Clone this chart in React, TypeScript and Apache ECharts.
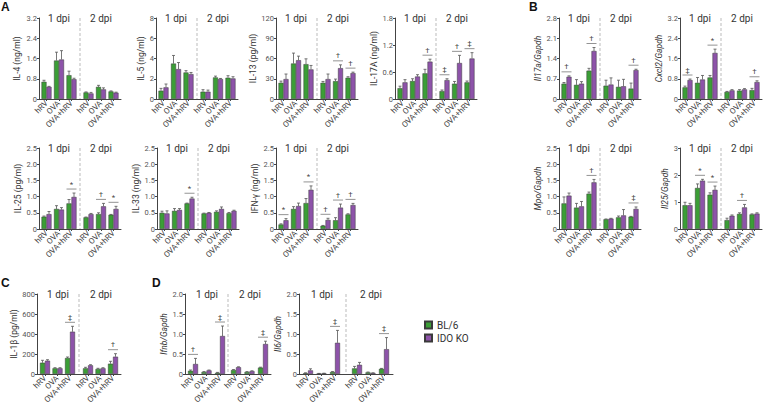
import React, { useEffect, useRef } from "react";
import * as echarts from "echarts";

// ---------------- DATA ----------------
const GROUPS = ["hRV", "OVA", "OVA+hRV"];
const DPI_LABELS = ["1 dpi", "2 dpi"];
const GENOTYPES = ["BL/6", "IDO KO"];
// order in every array: 1 dpi hRV, OVA, OVA+hRV, 2 dpi hRV, OVA, OVA+hRV

const IL4_BL6 = [0.68, 1.52, 0.94, 0.26, 0.48, 0.3];
const IL4_BL6_ERR = [0.74, 1.85, 1.1, 0.28, 0.54, 0.32];
const IL4_KO = [0.48, 1.56, 0.78, 0.22, 0.38, 0.25];
const IL4_KO_ERR = [0.5, 1.91, 0.82, 0.26, 0.44, 0.27];
const IL4_SIG = ["", "", "", "", "", ""];

const IL5_BL6 = [0.82, 3.5, 2.62, 0.72, 2.13, 2.1];
const IL5_BL6_ERR = [1.05, 4.3, 2.8, 0.92, 2.26, 2.3];
const IL5_KO = [1.15, 2.95, 2.46, 0.72, 1.97, 2.03];
const IL5_KO_ERR = [1.48, 3.6, 2.62, 0.88, 2.03, 2.2];
const IL5_SIG = ["", "", "", "", "", ""];

const IL13_BL6 = [24, 52.6, 51.6, 24, 26.5, 31.5];
const IL13_BL6_ERR = [26.5, 68, 59.5, 26, 29.5, 33];
const IL13_KO = [29.5, 57.5, 43.8, 29.5, 45.7, 38.4];
const IL13_KO_ERR = [37, 63.5, 49.7, 37, 50.6, 39.8];
const IL13_SIG = ["", "", "", "", "†", "†"];

const IL17A_BL6 = [0.24, 0.4, 0.57, 0.175, 0.34, 0.37];
const IL17A_BL6_ERR = [0.285, 0.45, 0.66, 0.2, 0.39, 0.4];
const IL17A_KO = [0.37, 0.5, 0.83, 0.42, 0.8, 0.9];
const IL17A_KO_ERR = [0.43, 0.54, 0.885, 0.45, 0.97, 1.03];
const IL17A_SIG = ["", "", "†", "‡", "†", "‡"];

const IL17A_MRNA_BL6 = [0.53, 0.49, 0.98, 0.46, 0.42, 0.36];
const IL17A_MRNA_BL6_ERR = [0.57, 0.67, 1.06, 0.65, 0.65, 0.55];
const IL17A_MRNA_KO = [0.77, 0.53, 1.66, 0.5, 0.44, 1.0];
const IL17A_MRNA_KO_ERR = [0.8, 0.6, 1.78, 0.73, 0.68, 1.03];
const IL17A_MRNA_SIG = ["†", "", "†", "", "", "†"];

const CXCL2_BL6 = [0.46, 0.64, 0.85, 0.28, 0.33, 0.35];
const CXCL2_BL6_ERR = [0.51, 0.85, 0.93, 0.3, 0.37, 0.42];
const CXCL2_KO = [0.75, 0.77, 1.82, 0.34, 0.38, 0.67];
const CXCL2_KO_ERR = [0.79, 0.93, 1.97, 0.37, 0.41, 0.72];
const CXCL2_SIG = ["‡", "", "*", "", "", "†"];

const IL25_BL6 = [0.38, 0.62, 0.79, 0.36, 0.46, 0.44];
const IL25_BL6_ERR = [0.4, 0.72, 0.91, 0.37, 0.5, 0.45];
const IL25_KO = [0.46, 0.6, 0.99, 0.46, 0.7, 0.62];
const IL25_KO_ERR = [0.54, 0.66, 1.11, 0.48, 0.79, 0.7];
const IL25_SIG = ["", "", "*", "", "†", "*"];

const IL33_BL6 = [0.5, 0.56, 0.79, 0.48, 0.53, 0.49];
const IL33_BL6_ERR = [0.55, 0.63, 0.8, 0.49, 0.56, 0.51];
const IL33_KO = [0.48, 0.59, 0.94, 0.5, 0.62, 0.56];
const IL33_KO_ERR = [0.56, 0.63, 0.98, 0.51, 0.68, 0.58];
const IL33_SIG = ["", "", "*", "", "", ""];

const IFNG_BL6 = [0.14, 0.62, 0.8, 0.1, 0.27, 0.45];
const IFNG_BL6_ERR = [0.16, 0.69, 0.94, 0.11, 0.35, 0.47];
const IFNG_KO = [0.27, 0.71, 1.21, 0.28, 0.66, 0.74];
const IFNG_KO_ERR = [0.32, 0.8, 1.33, 0.33, 0.77, 0.79];
const IFNG_SIG = ["*", "", "*", "†", "†", "†"];

const MPO_BL6 = [0.79, 0.66, 1.09, 0.3, 0.36, 0.38];
const MPO_BL6_ERR = [0.99, 0.79, 1.14, 0.31, 0.4, 0.39];
const MPO_KO = [1.03, 0.7, 1.44, 0.32, 0.42, 0.62];
const MPO_KO_ERR = [1.11, 0.85, 1.53, 0.33, 0.6, 0.68];
const MPO_SIG = ["", "", "†", "", "", "‡"];

const IL25_MRNA_BL6 = [0.88, 1.52, 1.27, 0.33, 0.56, 0.54];
const IL25_MRNA_BL6_ERR = [0.99, 1.67, 1.34, 0.4, 0.6, 0.56];
const IL25_MRNA_KO = [0.88, 1.79, 1.45, 0.49, 0.8, 0.57];
const IL25_MRNA_KO_ERR = [0.95, 1.84, 1.59, 0.52, 0.91, 0.6];
const IL25_MRNA_SIG = ["", "*", "*", "", "†", ""];

const IL1B_BL6 = [113, 57, 160, 57, 50, 103];
const IL1B_BL6_ERR = [137, 63, 170, 67, 57, 127];
const IL1B_KO = [133, 57, 423, 87, 57, 173];
const IL1B_KO_ERR = [143, 63, 477, 93, 63, 203];
const IL1B_SIG = ["", "", "‡", "", "", "†"];

const IFNB_BL6 = [0.08, 0.05, 0.03, 0.1, 0.05, 0.16];
const IFNB_BL6_ERR = [0.1, 0.06, 0.04, 0.11, 0.06, 0.17];
const IFNB_KO = [0.25, 0.09, 0.95, 0.17, 0.07, 0.75];
const IFNB_KO_ERR = [0.39, 0.1, 1.2, 0.18, 0.08, 0.82];
const IFNB_SIG = ["†", "", "‡", "", "", "‡"];

const IL6_BL6 = [0.02, 0.01, 0.05, 0.14, 0.04, 0.13];
const IL6_BL6_ERR = [0.03, 0.015, 0.06, 0.19, 0.05, 0.14];
const IL6_KO = [0.09, 0.015, 0.78, 0.23, 0.025, 0.62];
const IL6_KO_ERR = [0.13, 0.02, 1.09, 0.29, 0.03, 0.91];
const IL6_SIG = ["", "", "‡", "", "", "‡"];

// panel axis definitions: name, max, interval, decimals, italic
const PANELS = [
  { name: "IL-4 (ng/ml)", max: 3.2, interval: 0.8, dec: 1, italic: false, d: [IL4_BL6, IL4_BL6_ERR, IL4_KO, IL4_KO_ERR, IL4_SIG] },
  { name: "IL-5 (ng/ml)", max: 8, interval: 2, dec: 0, italic: false, d: [IL5_BL6, IL5_BL6_ERR, IL5_KO, IL5_KO_ERR, IL5_SIG] },
  { name: "IL-13 (pg/ml)", max: 120, interval: 30, dec: 0, italic: false, d: [IL13_BL6, IL13_BL6_ERR, IL13_KO, IL13_KO_ERR, IL13_SIG] },
  { name: "IL-17A (ng/ml)", max: 1.8, interval: 0.6, dec: 1, italic: false, d: [IL17A_BL6, IL17A_BL6_ERR, IL17A_KO, IL17A_KO_ERR, IL17A_SIG] },
  { name: "Il17a/Gapdh", max: 2.8, interval: 0.7, dec: 1, italic: true, d: [IL17A_MRNA_BL6, IL17A_MRNA_BL6_ERR, IL17A_MRNA_KO, IL17A_MRNA_KO_ERR, IL17A_MRNA_SIG] },
  { name: "Cxcl2/Gapdh", max: 3.2, interval: 0.8, dec: 1, italic: true, d: [CXCL2_BL6, CXCL2_BL6_ERR, CXCL2_KO, CXCL2_KO_ERR, CXCL2_SIG] },
  { name: "IL-25 (pg/ml)", max: 2.5, interval: 0.5, dec: 1, italic: false, d: [IL25_BL6, IL25_BL6_ERR, IL25_KO, IL25_KO_ERR, IL25_SIG] },
  { name: "IL-33 (ng/ml)", max: 2.5, interval: 0.5, dec: 1, italic: false, d: [IL33_BL6, IL33_BL6_ERR, IL33_KO, IL33_KO_ERR, IL33_SIG] },
  { name: "IFN-γ (ng/ml)", max: 2.5, interval: 0.5, dec: 1, italic: false, d: [IFNG_BL6, IFNG_BL6_ERR, IFNG_KO, IFNG_KO_ERR, IFNG_SIG] },
  { name: "Mpo/Gapdh", max: 2.5, interval: 0.5, dec: 1, italic: true, d: [MPO_BL6, MPO_BL6_ERR, MPO_KO, MPO_KO_ERR, MPO_SIG] },
  { name: "Il25/Gapdh", max: 3, interval: 1, dec: 0, italic: true, d: [IL25_MRNA_BL6, IL25_MRNA_BL6_ERR, IL25_MRNA_KO, IL25_MRNA_KO_ERR, IL25_MRNA_SIG] },
  { name: "IL-1β (pg/ml)", max: 800, interval: 200, dec: 0, italic: false, d: [IL1B_BL6, IL1B_BL6_ERR, IL1B_KO, IL1B_KO_ERR, IL1B_SIG] },
  { name: "Ifnb/Gapdh", max: 2, interval: 0.5, dec: 1, italic: true, d: [IFNB_BL6, IFNB_BL6_ERR, IFNB_KO, IFNB_KO_ERR, IFNB_SIG] },
  { name: "Il6/Gapdh", max: 2, interval: 0.5, dec: 1, italic: true, d: [IL6_BL6, IL6_BL6_ERR, IL6_KO, IL6_KO_ERR, IL6_SIG] },
];

// ---------------- LAYOUT ----------------
const ROW_TOP = [18, 148, 294];
const ROW_ZERO = [99, 229, 374];
// x: y-axis position, m: margin to first group centre, s: group spacing, g: half gap to dashed line
const LAYOUT = [
  { row: 0, x: 39, m: 7.5, s: 12.5, g: 8.5, ng: 18 },
  { row: 0, x: 156, m: 7.5, s: 12.5, g: 8.5, ng: 11 },
  { row: 0, x: 276, m: 7.5, s: 12.5, g: 8.5, ng: 15 },
  { row: 0, x: 395, m: 7.5, s: 12.5, g: 8.5, ng: 14 },
  { row: 0, x: 559, m: 7.5, s: 12.5, g: 8.5, ng: 16 },
  { row: 0, x: 680, m: 7.5, s: 12.5, g: 8.5, ng: 13 },
  { row: 1, x: 39, m: 7.5, s: 12.5, g: 8.5, ng: 17 },
  { row: 1, x: 157, m: 7.5, s: 12.5, g: 8.5, ng: 17 },
  { row: 1, x: 276, m: 7.5, s: 12.5, g: 8.5, ng: 17 },
  { row: 1, x: 559, m: 7.5, s: 12.5, g: 8.5, ng: 17 },
  { row: 1, x: 680, m: 7.5, s: 12.5, g: 8.5, ng: 11 },
  { row: 2, x: 37, m: 8, s: 12.5, g: 9, ng: 17 },
  { row: 2, x: 185, m: 8, s: 13.5, g: 8, ng: 17 },
  { row: 2, x: 299, m: 9, s: 13.5, g: 11, ng: 17 },
];

const GREEN = "#3b9e36";
const PURPLE = "#8d53a9";
const FONT = "Roboto, 'Noto Sans', sans-serif";
const AXIS_COLOR = "#444";

function buildOption() {
  const grid: any[] = [];
  const xAxis: any[] = [];
  const yAxis: any[] = [];
  const series: any[] = [];
  const graphic: any[] = [];

  PANELS.forEach((p, pi) => {
    const L = LAYOUT[pi];
    const top = ROW_TOP[L.row];
    const zero = ROW_ZERO[L.row];
    const h = zero - top;
    const total = 2 * L.m + 4 * L.s + 2 * L.g;
    const dashX = L.x + L.m + 2 * L.s + L.g;
    const [bl6, bl6Err, ko, koErr, sig] = p.d as any[];

    // frame grid: y axis + continuous x axis line
    const fi = grid.length;
    grid.push({ left: L.x, top, width: total, height: h });
    xAxis.push({
      gridIndex: fi, type: "value", min: 0, max: 1,
      axisLine: { show: true, lineStyle: { color: AXIS_COLOR, width: 1 } },
      axisTick: { show: false }, axisLabel: { show: false }, splitLine: { show: false },
    });
    yAxis.push({
      gridIndex: fi, type: "value", min: 0, max: p.max, interval: p.interval,
      name: p.name, nameLocation: "middle", nameGap: L.ng,
      nameTextStyle: { fontSize: 8.5, color: "#333", fontFamily: FONT, fontStyle: p.italic ? "italic" : "normal" },
      axisLine: { show: true, lineStyle: { color: AXIS_COLOR, width: 1 } },
      axisTick: { show: true, length: 2, lineStyle: { color: AXIS_COLOR } },
      axisLabel: {
        fontSize: 7.5, color: "#555", fontFamily: FONT, margin: 2,
        formatter: (v: number) => (v === 0 ? "0" : v.toFixed(p.dec)),
      },
      splitLine: { show: false },
    });

    // dashed separator
    graphic.push({
      type: "line", silent: true,
      shape: { x1: dashX, y1: top, x2: dashX, y2: zero },
      style: { stroke: "#aaa", lineWidth: 0.8, lineDash: [3, 2] },
    });

    for (let half = 0; half < 2; half++) {
      const left = half === 0 ? L.x + L.m - L.s / 2 : dashX + L.g - L.s / 2;
      const gi = grid.length;
      grid.push({ left, top, width: 3 * L.s, height: h });
      xAxis.push({
        gridIndex: gi, type: "category", data: GROUPS,
        axisLine: { show: false },
        axisTick: { show: true, alignWithLabel: true, length: 2, lineStyle: { color: AXIS_COLOR } },
        axisLabel: { rotate: 45, fontSize: 8, color: "#444", fontFamily: FONT, margin: 3, interval: 0 },
        splitLine: { show: false },
      });
      yAxis.push({ gridIndex: gi, type: "value", min: 0, max: p.max, show: false, splitLine: { show: false } });

      graphic.push({
        type: "text", silent: true,
        x: Math.round(left + 1.5 * L.s), y: top,
        style: { text: DPI_LABELS[half], fontSize: 10, fill: "#333", fontFamily: FONT, align: "center", verticalAlign: "middle" },
      });

      const sl = (a: number[]) => a.slice(half * 3, half * 3 + 3);
      const barStyle = (c: string) => ({ color: c, borderColor: "#3a3a3a", borderWidth: 0.5 });
      series.push({
        type: "bar", name: GENOTYPES[0], xAxisIndex: gi, yAxisIndex: gi,
        data: sl(bl6), barWidth: 5, barGap: "0%", itemStyle: barStyle(GREEN), silent: true,
      });
      series.push({
        type: "bar", name: GENOTYPES[1], xAxisIndex: gi, yAxisIndex: gi,
        data: sl(ko), barWidth: 5, barGap: "0%", itemStyle: barStyle(PURPLE), silent: true,
      });

      // error bars
      const errData: number[][] = [];
      [0, 1, 2].forEach((i) => {
        errData.push([i, sl(bl6)[i], sl(bl6Err)[i], 0]);
        errData.push([i, sl(ko)[i], sl(koErr)[i], 1]);
      });
      series.push({
        type: "custom", xAxisIndex: gi, yAxisIndex: gi, silent: true,
        itemStyle: { color: "#555" },
        encode: { x: 0, y: 2 },
        data: errData,
        renderItem: (params: any, api: any) => {
          const c = api.value(0), v = api.value(1), e = api.value(2), k = api.value(3);
          const a = api.coord([c, v]);
          const b = api.coord([c, e]);
          const px = a[0] + (k === 0 ? -2.5 : 2.5);
          const st = { stroke: "#555", lineWidth: 0.8 };
          return {
            type: "group",
            children: [
              { type: "line", shape: { x1: px, y1: a[1], x2: px, y2: b[1] }, style: st },
              { type: "line", shape: { x1: px - 1.5, y1: b[1], x2: px + 1.5, y2: b[1] }, style: st },
            ],
          };
        },
      });

      // significance marks
      const sigLabels = sl(sig as any);
      const sigData: number[][] = [];
      const sigText: string[] = [];
      [0, 1, 2].forEach((i) => {
        if (sigLabels[i]) {
          sigData.push([i, Math.max(sl(bl6Err)[i], sl(koErr)[i])]);
          sigText.push(sigLabels[i]);
        }
      });
      if (sigData.length) {
        series.push({
          type: "custom", xAxisIndex: gi, yAxisIndex: gi, silent: true,
          itemStyle: { color: "#444" },
          encode: { x: 0, y: 1 },
          data: sigData,
          renderItem: (params: any, api: any) => {
            const pt = api.coord([api.value(0), api.value(1)]);
            const ly = pt[1] - 4;
            return {
              type: "group",
              children: [
                { type: "line", shape: { x1: pt[0] - 5, y1: ly, x2: pt[0] + 5, y2: ly }, style: { stroke: "#777", lineWidth: 0.8 } },
                {
                  type: "text", x: pt[0], y: ly - 1,
                  style: { text: sigText[params.dataIndex], fontSize: 8, fill: "#444", opacity: 0.99, fontFamily: FONT, align: "center", verticalAlign: "bottom" },
                },
              ],
            };
          },
        });
      }
    }
  });

  const letter = (t: string, x: number, y: number) => ({
    type: "text", silent: true, x, y,
    style: { text: t, fontSize: 12, fontWeight: "bold", fill: "#111", fontFamily: "'Liberation Sans', Arial, sans-serif" },
  });
  graphic.push(letter("A", 1, 1), letter("B", 529, 1), letter("C", 1, 277), letter("D", 152, 277));

  return {
    animation: false,
    backgroundColor: "#fff",
    grid, xAxis, yAxis, series, graphic,
    legend: {
      data: GENOTYPES, orient: "vertical", left: 424, top: 320, padding: 0,
      itemWidth: 7, itemHeight: 7, itemGap: 3, icon: "rect",
      textStyle: { fontSize: 10, color: "#333", fontFamily: FONT },
      selectedMode: false,
    },
  };
}

export default function App() {
  const ref = useRef<HTMLDivElement>(null);
  useEffect(() => {
    document.body.style.margin = "0";
    const chart = echarts.init(ref.current!, undefined, { renderer: "svg" });
    chart.setOption(buildOption() as any);
    return () => chart.dispose();
  }, []);
  return <div ref={ref} style={{ width: 764, height: 408 }} />;
}
